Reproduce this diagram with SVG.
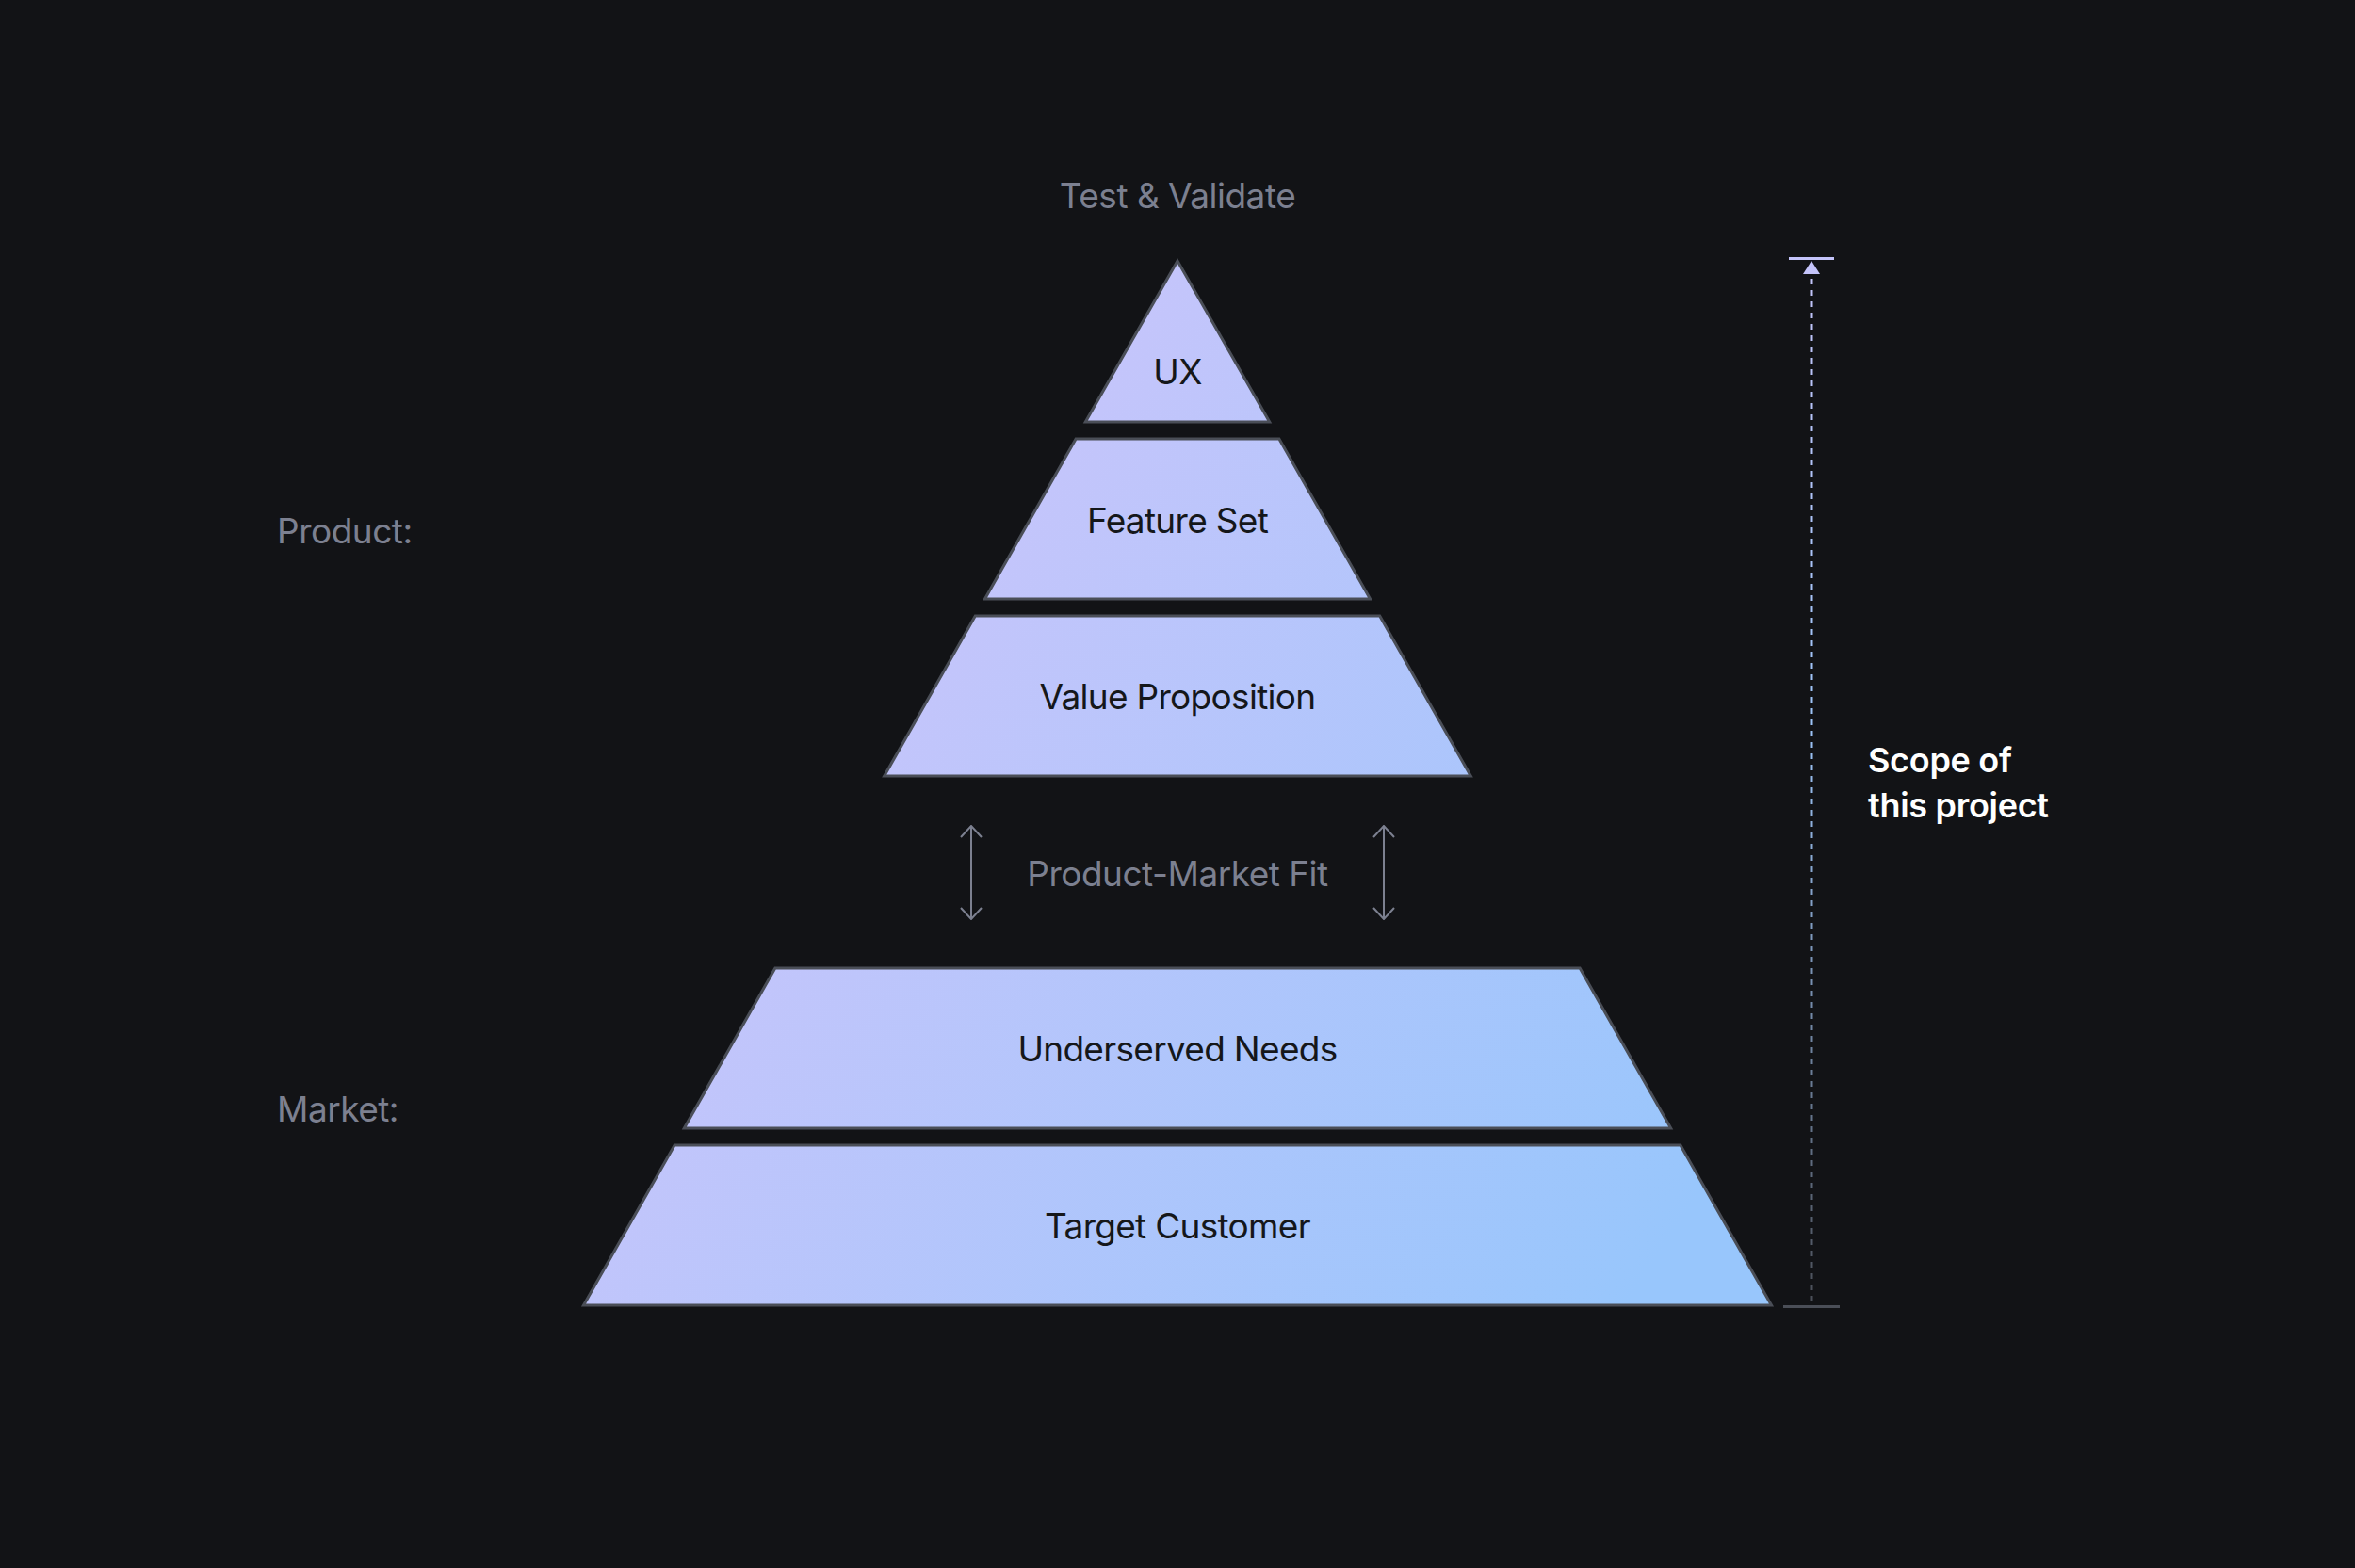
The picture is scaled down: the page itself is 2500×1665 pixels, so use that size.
<svg xmlns="http://www.w3.org/2000/svg" width="2500" height="1665" viewBox="0 0 2500 1665">
<defs>
<linearGradient id="fill" gradientUnits="userSpaceOnUse" x1="950" y1="600" x2="1850" y2="1200">
<stop offset="0" stop-color="#c7c5fb"/>
<stop offset="1" stop-color="#98c6fc"/>
</linearGradient>
<linearGradient id="scope" gradientUnits="userSpaceOnUse" x1="0" y1="274" x2="0" y2="1387">
<stop offset="0" stop-color="#c4c4fa"/>
<stop offset="0.45" stop-color="#9cc4f8"/>
<stop offset="1" stop-color="#4a4e57"/>
</linearGradient>
<marker id="chev" viewBox="0 0 14 24" refX="13" refY="12" markerWidth="14" markerHeight="24" markerUnits="userSpaceOnUse" orient="auto-start-reverse">
<path d="M1,1 L13,12 L1,23" fill="none" stroke="#7c8090" stroke-width="2"/>
</marker>
</defs>
<style>
.tier{fill:url(#fill);stroke:#4a4e57;stroke-width:3;stroke-linejoin:miter}
.lbl{font-family:Inter,"Liberation Sans",sans-serif;font-size:37px;fill:#15171a;text-anchor:middle;letter-spacing:-0.7px}
.muted{font-family:Inter,"Liberation Sans",sans-serif;font-size:37px;fill:#7c8090;letter-spacing:-0.5px}
.scope{font-family:Inter,"Liberation Sans",sans-serif;font-size:36px;font-weight:600;fill:#ffffff;letter-spacing:-0.3px}
</style>
<rect width="2500" height="1665" fill="#121316"/>

<text class="muted" x="1250" y="221" text-anchor="middle">Test &amp; Validate</text>
<text class="muted" x="294" y="577">Product:</text>
<text class="muted" x="294" y="1191">Market:</text>

<g id="ux">
<polygon class="tier" points="1250,277 1347.7,448 1152.3,448"/>
<text class="lbl" x="1250" y="408">UX</text>
</g>
<g id="feature-set">
<polygon class="tier" points="1142.1,466 1357.9,466 1454.5,636 1045.5,636"/>
<text class="lbl" x="1250" y="566">Feature Set</text>
</g>
<g id="value-proposition">
<polygon class="tier" points="1035.3,654 1464.7,654 1561.3,824 938.7,824"/>
<text class="lbl" x="1250" y="753">Value Proposition</text>
</g>
<g id="pmf">
<text class="muted" x="1250" y="941" text-anchor="middle">Product-Market Fit</text>
</g>
<g id="underserved-needs">
<polygon class="tier" points="822.9,1028 1677.1,1028 1773.7,1198 726.3,1198"/>
<text class="lbl" x="1250" y="1127">Underserved Needs</text>
</g>
<g id="target-customer">
<polygon class="tier" points="716.1,1216 1783.9,1216 1880.5,1386 619.5,1386"/>
<text class="lbl" x="1250" y="1315">Target Customer</text>
</g>
<g id="scope-label">
<text class="scope" x="1983" y="820">Scope of</text>
<text class="scope" x="1983" y="868">this project</text>
</g>

<g id="connectors">
<line x1="1031" y1="877" x2="1031" y2="976" stroke="#7c8090" stroke-width="2" marker-start="url(#chev)" marker-end="url(#chev)"/>
<line x1="1469" y1="877" x2="1469" y2="976" stroke="#7c8090" stroke-width="2" marker-start="url(#chev)" marker-end="url(#chev)"/>
<line x1="1923" y1="296" x2="1923" y2="1386" stroke="url(#scope)" stroke-width="3" stroke-dasharray="6 6"/>
<polygon points="1923,277 1932,291 1914,291" fill="#c4c4fa"/>
<line x1="1899" y1="274.5" x2="1947" y2="274.5" stroke="#c4c4fa" stroke-width="3"/>
<line x1="1893" y1="1387.5" x2="1953" y2="1387.5" stroke="#4a4e57" stroke-width="3"/>
</g>
</svg>
